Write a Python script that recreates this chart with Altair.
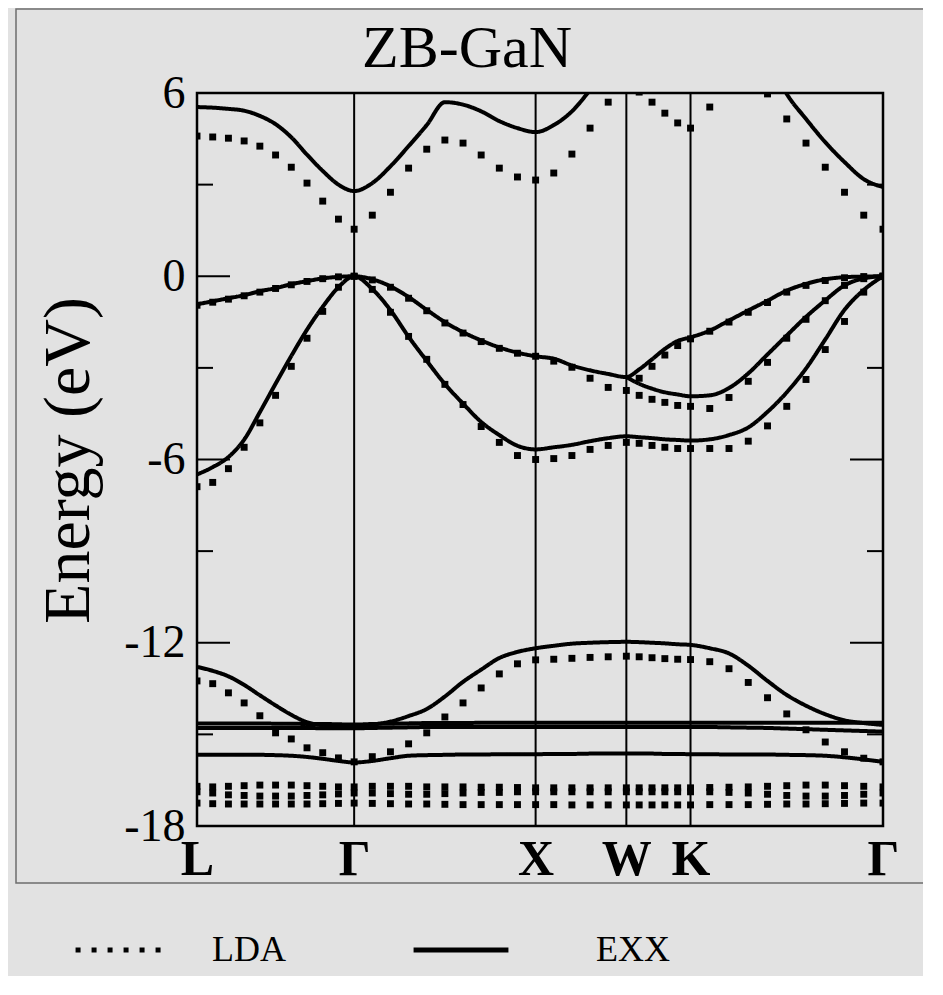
import altair as alt
import pandas as pd

# ---------------- texts ----------------
TITLE = "ZB-GaN"
Y_TITLE = "Energy (eV)"

# ---------------- k-path (FCC) ----------------
NODE_LABELS = ["L", "Γ", "X", "W", "K", "Γ"]
NODE_K = [0.0, 0.8660, 1.8660, 2.3660, 2.7196, 3.7803]
SEG_STEPS = [10, 10, 5, 5, 10]

# ---------------- EXX bands (solid lines), eV, 41 k-points ----------------
EXX_C1 = [5.54, 5.52, 5.48, 5.42, 5.25, 4.98, 4.55, 3.98, 3.45, 3.00, 2.79,
          3.05, 3.60, 4.26, 4.95, 5.70, 5.62, 5.40, 5.08, 4.85, 4.72,
          4.95, 5.40, 6.10, 6.90, None,
          None, None, None, None, None,
          None, None, None, 7.20, 5.97, 5.15, 4.39, 3.74, 3.18, 2.92]
EXX_V1 = [-0.92, -0.82, -0.72, -0.62, -0.49, -0.39, -0.26, -0.16, -0.07, -0.02, 0.0,
          -0.10, -0.33, -0.68, -1.10, -1.50, -1.83, -2.10, -2.33, -2.50, -2.62,
          -2.70, -2.92, -3.08, -3.20, -3.30,
          -3.05, -2.72, -2.38, -2.12, -2.00,
          -1.78, -1.45, -1.12, -0.80, -0.47, -0.25, -0.10, -0.03, -0.01, 0.0]
EXX_V2 = [None] * 25 + [
          -3.30, -3.52, -3.68, -3.80, -3.87, -3.93,
          -3.90, -3.66, -3.18, -2.56, -1.94, -1.33, -0.79, -0.30, -0.07, 0.0]
EXX_V3 = [-6.49, -6.25, -5.92, -5.35, -4.45, -3.52, -2.61, -1.75, -1.00, -0.36, 0.0,
          -0.42, -1.11, -1.98, -2.77, -3.53, -4.17, -4.77, -5.20, -5.55, -5.67,
          -5.60, -5.52, -5.40, -5.30, -5.24,
          -5.27, -5.30, -5.34, -5.36, -5.38,
          -5.34, -5.20, -4.95, -4.44, -3.80, -3.02, -2.07, -1.10, -0.45, 0.0]
EXX_S = [-12.79, -12.92, -13.10, -13.38, -13.72, -14.05, -14.36, -14.60, -14.70, -14.72, -14.72,
         -14.68, -14.58, -14.40, -14.17, -13.76, -13.28, -12.88, -12.50, -12.30, -12.18,
         -12.10, -12.03, -12.00, -11.98, -11.97,
         -11.98, -12.00, -12.02, -12.05, -12.07,
         -12.18, -12.35, -12.75, -13.25, -13.71, -14.06, -14.34, -14.54, -14.63, -14.69]
EXX_D1 = [-14.64, -14.64, -14.64, -14.64, -14.64, -14.65, -14.65, -14.66, -14.66, -14.67, -14.68,
          -14.66, -14.65, -14.64, -14.63, -14.63, -14.63, -14.62, -14.62, -14.62, -14.62,
          -14.62, -14.62, -14.62, -14.62, -14.62,
          -14.62, -14.62, -14.62, -14.62, -14.62,
          -14.62, -14.62, -14.62, -14.62, -14.62, -14.62, -14.62, -14.62, -14.62, -14.62]
EXX_D2 = [-14.79, -14.79, -14.79, -14.79, -14.79, -14.79, -14.79, -14.79, -14.80, -14.80, -14.80,
          -14.79, -14.78, -14.77, -14.76, -14.76, -14.76, -14.76, -14.76, -14.76, -14.76,
          -14.76, -14.76, -14.76, -14.76, -14.76,
          -14.76, -14.76, -14.76, -14.76, -14.76,
          -14.76, -14.77, -14.78, -14.79, -14.81, -14.83, -14.85, -14.87, -14.89, -14.91]
EXX_LOW = [-15.67, -15.67, -15.67, -15.67, -15.67, -15.68, -15.70, -15.74, -15.80, -15.87, -15.92,
           -15.87, -15.78, -15.70, -15.68, -15.67, -15.66, -15.66, -15.65, -15.65, -15.65,
           -15.64, -15.64, -15.63, -15.63, -15.63,
           -15.63, -15.63, -15.64, -15.64, -15.65,
           -15.65, -15.66, -15.66, -15.66, -15.67, -15.68, -15.70, -15.75, -15.82, -15.90]

# ---------------- LDA bands (dotted), eV, 41 k-points ----------------
LDA_C1 = [4.59, 4.56, 4.52, 4.43, 4.26, 3.97, 3.57, 3.05, 2.46, 1.87, 1.54,
          2.00, 2.75, 3.54, 4.16, 4.46, 4.36, 3.97, 3.54, 3.25, 3.15,
          3.38, 4.00, 4.85, 5.70, None,
          6.03, 5.70, 5.34, 5.02, 4.85,
          5.54, None, None, 5.97, 5.15, 4.36, 3.57, 2.75, 2.00, 1.54]
LDA_V1 = [-0.95, -0.85, -0.75, -0.64, -0.52, -0.40, -0.28, -0.17, -0.08, -0.02, 0.0,
          -0.12, -0.36, -0.72, -1.13, -1.53, -1.86, -2.14, -2.36, -2.52, -2.62,
          -2.78, -2.98, -3.34, -3.64, -3.74,
          -3.34, -2.95, -2.58, -2.27, -2.05,
          -1.80, -1.50, -1.18, -0.86, -0.52, -0.30, -0.14, -0.05, -0.01, 0.0]
LDA_V2 = [None] * 26 + [
          -3.90, -4.03, -4.13, -4.23, -4.26,
          -4.33, -3.97, -3.44, -2.82, -2.03, -1.41, -0.80, -0.30, -0.08, 0.0]
LDA_V3 = [-6.89, -6.75, -6.30, -5.60, -4.80, -3.90, -2.95, -2.03, -1.15, -0.36, 0.0,
          -0.43, -1.18, -1.97, -2.72, -3.54, -4.20, -4.92, -5.44, -5.87, -6.00,
          -5.97, -5.87, -5.67, -5.54, -5.44,
          -5.47, -5.54, -5.60, -5.64, -5.64,
          -5.64, -5.64, -5.40, -4.90, -4.26, -3.38, -2.40, -1.48, -0.52, 0.0]
LDA_S = [-13.25, -13.34, -13.64, -13.97, -14.39, -14.95, -15.15, -15.44, -15.60, -15.77, -15.90,
         -15.73, -15.57, -15.31, -14.95, -14.43, -13.97, -13.48, -13.02, -12.69, -12.56,
         -12.54, -12.51, -12.48, -12.46, -12.44,
         -12.46, -12.49, -12.52, -12.54, -12.55,
         -12.62, -12.85, -13.30, -13.80, -14.33, -14.85, -15.25, -15.57, -15.78, -15.90]
LDA_DA = [-16.70, -16.72, -16.70, -16.68, -16.66, -16.66, -16.66, -16.68, -16.70, -16.72, -16.72,
          -16.70, -16.70, -16.70, -16.72, -16.72, -16.72, -16.73, -16.73, -16.74, -16.75,
          -16.75, -16.75, -16.75, -16.75, -16.75,
          -16.75, -16.75, -16.75, -16.75, -16.75,
          -16.74, -16.73, -16.72, -16.70, -16.68, -16.66, -16.66, -16.68, -16.70, -16.72]
LDA_DB = [-16.88, -16.92, -16.98, -17.00, -17.02, -17.02, -17.02, -17.00, -16.98, -16.95, -16.92,
          -16.92, -16.94, -16.96, -16.96, -16.94, -16.92, -16.90, -16.90, -16.88, -16.88,
          -16.88, -16.88, -16.88, -16.88, -16.88,
          -16.88, -16.88, -16.88, -16.88, -16.88,
          -16.88, -16.90, -16.92, -16.96, -17.00, -17.02, -17.02, -17.00, -16.96, -16.92]
LDA_DC = [-17.25, -17.27, -17.28, -17.28, -17.28, -17.28, -17.28, -17.28, -17.27, -17.26, -17.25,
          -17.26, -17.27, -17.28, -17.28, -17.29, -17.30, -17.30, -17.30, -17.30, -17.30,
          -17.30, -17.31, -17.31, -17.31, -17.31,
          -17.31, -17.31, -17.31, -17.31, -17.31,
          -17.30, -17.30, -17.30, -17.29, -17.28, -17.28, -17.27, -17.26, -17.25, -17.25]

Y_MAJOR = [-18, -12, -6, 0, 6]
Y_MINOR = [-15, -9, -3, 3]

EXX_BANDS = {"c1": EXX_C1, "v1": EXX_V1, "v2": EXX_V2, "v3": EXX_V3, "s": EXX_S,
             "d1": EXX_D1, "d2": EXX_D2, "low": EXX_LOW}
LDA_BANDS = {"c1": LDA_C1, "v1": LDA_V1, "v2": LDA_V2, "v3": LDA_V3, "s": LDA_S,
             "da": LDA_DA, "db": LDA_DB, "dc": LDA_DC}

# ---------------- build tables ----------------
K = []
for a, b, n in zip(NODE_K[:-1], NODE_K[1:], SEG_STEPS):
    K += [a + (b - a) * j / n for j in range(n)]
K.append(NODE_K[-1])


def to_long(bands, method):
    rows = []
    for name, vals in bands.items():
        seg = 0
        prev_none = False
        for k, e in zip(K, vals):
            if e is None:
                prev_none = True
                continue
            if prev_none:
                seg += 1
                prev_none = False
            rows.append({"k": k, "E": e, "band": f"{name}_{seg}", "method": method})
    return pd.DataFrame(rows)


exx_df = to_long(EXX_BANDS, "EXX")
lda_df = to_long(LDA_BANDS, "LDA")

W, H = 686, 733
SERIF = "Liberation Serif"

label_expr = ""
for i, (kv, lab) in enumerate(zip(NODE_K, NODE_LABELS)):
    if i < len(NODE_K) - 1:
        mid = (kv + NODE_K[i + 1]) / 2
        label_expr += f"datum.value < {mid:.4f} ? '{lab}' : "
    else:
        label_expr += f"'{lab}'"

XS = alt.Scale(domain=[NODE_K[0], NODE_K[-1]], nice=False, zero=False)
YS = alt.Scale(domain=[-18, 6], nice=False, zero=False)
XAXIS = alt.Axis(values=NODE_K, labelExpr=label_expr, title=None, ticks=False, domain=False,
                 grid=False, labelFont=SERIF, labelFontSize=50, labelFontWeight="bold",
                 labelColor="black", labelPadding=8, labelFlush=False, labelOverlap=False)
YAXIS = alt.Axis(values=Y_MAJOR, labelExpr="toString(datum.value)",
                 title=Y_TITLE, ticks=False, domain=False, grid=False,
                 labelFont=SERIF, labelFontSize=46, labelColor="black", labelPadding=12,
                 labelFlush=False, labelOverlap=False,
                 titleFont=SERIF, titleFontSize=66, titleFontWeight="normal", titleColor="black",
                 titleAngle=270, titleBaseline="alphabetic", titleAlign="center",
                 titleX=-109, titleY=367)
X_ENC = alt.X("k:Q", scale=XS, axis=XAXIS)
Y_ENC = alt.Y("E:Q", scale=YS, axis=YAXIS)


def legend(x, offset):
    return alt.Legend(orient="none", legendX=x, legendY=807, title=None,
                      symbolType="stroke", symbolSize=9000, symbolStrokeWidth=5,
                      symbolStrokeColor="black", labelFont=SERIF, labelFontSize=36,
                      labelColor="black", labelOffset=offset, padding=0)


# decorative picture frame around the figure
frame = alt.Chart(pd.DataFrame({"E": [0]})).mark_rect(
    fill=None, stroke="#6e6e6e", strokeWidth=1.5).encode(
    x=alt.value(-181), x2=alt.value(W + 120), y=alt.value(-84), y2=alt.value(790))

# chart title as a text mark above the plot
title = alt.Chart(pd.DataFrame({"t": [TITLE]})).mark_text(
    font=SERIF, fontSize=60, color="black", align="center", baseline="alphabetic").encode(
    text="t:N", x=alt.value(270), y=alt.value(-26))

sym = alt.Chart(pd.DataFrame({"k": NODE_K[1:-1]})).mark_rule(
    color="black", strokeWidth=2).encode(x=X_ENC)

major = pd.DataFrame({"E": Y_MAJOR})
minor = pd.DataFrame({"E": Y_MINOR})


def ticks(df, x0, x1):
    return alt.Chart(df).mark_rule(color="black", strokeWidth=2).encode(
        y=Y_ENC, x=alt.value(x0), x2=alt.value(x1))


tick_layers = [ticks(major, 0, 33), ticks(minor, 0, 16),
               ticks(major, W - 33, W), ticks(minor, W - 16, W)]

exx = alt.Chart(exx_df).mark_line(
    color="black", strokeWidth=4, clip=True, interpolate="monotone").encode(
    x=X_ENC, y=Y_ENC, detail="band:N",
    strokeDash=alt.StrokeDash("method:N",
                              scale=alt.Scale(domain=["EXX"], range=[[1, 0]]),
                              legend=legend(214, 85)))

# legend key for the LDA (dotted) series; the LDA data themselves are drawn as squares
lda_key = alt.Chart(lda_df.iloc[0:0]).mark_line(color="black", strokeWidth=4).encode(
    x=X_ENC, y=Y_ENC,
    strokeDash=alt.StrokeDash("method:N",
                              scale=alt.Scale(domain=["LDA"], range=[[5, 11]]),
                              legend=legend(-124, 39)))

lda = alt.Chart(lda_df).mark_square(color="black", size=48, opacity=1, clip=True).encode(
    x=X_ENC, y=Y_ENC)

chart = alt.layer(frame, title, sym, *tick_layers, exx, lda_key, lda).resolve_scale(
    strokeDash="independent").resolve_legend(strokeDash="independent").properties(
    width=W, height=H,
    padding={"left": 189, "top": 85, "right": 40, "bottom": 150},
    autosize=alt.AutoSizeParams(type="none"),
    background="#e2e2e2",
).configure_view(stroke="black", strokeWidth=2.5)

chart.save("out.html", embed_options={"renderer": "svg", "actions": False})
